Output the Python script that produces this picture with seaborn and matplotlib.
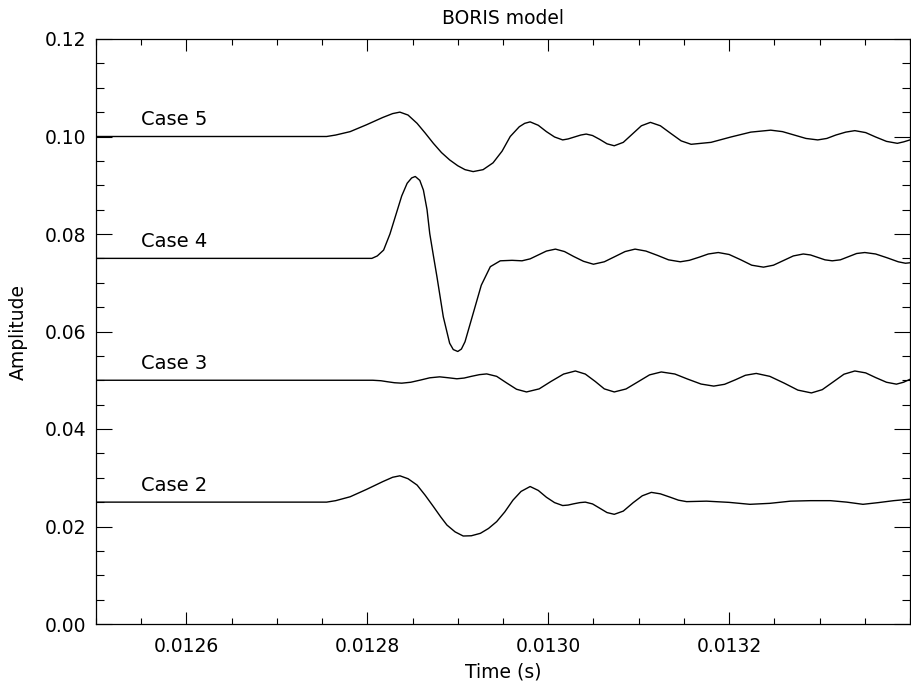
import numpy as np
import pandas as pd
import matplotlib
matplotlib.use("Agg")
import matplotlib.pyplot as plt
import seaborn as sns
from matplotlib.ticker import MultipleLocator, FormatStrFormatter

# ---- data (time in microseconds, amplitude) ----
case2_t = [12500, 12755, 12765, 12781, 12799, 12817, 12828, 12836, 12845, 12855, 12864, 12873,
           12881, 12888, 12897, 12906, 12915, 12925, 12934, 12943, 12952, 12961, 12970, 12980,
           12989, 12998, 13007, 13016, 13022, 13028, 13035, 13041, 13049, 13057, 13065, 13073,
           13083, 13094, 13104, 13114, 13124, 13135, 13144, 13153, 13175, 13200, 13223, 13245,
           13268, 13290, 13312, 13330, 13348, 13365, 13382, 13400]
case2_y = [0.0250, 0.0250, 0.0253, 0.0261, 0.0276, 0.0292, 0.0301, 0.0304, 0.0298, 0.0285, 0.0264, 0.0241,
           0.0220, 0.0203, 0.0189, 0.01805, 0.0181, 0.0186, 0.0196, 0.0210, 0.0230, 0.0254, 0.0272, 0.0282,
           0.0274, 0.0260, 0.0249, 0.0243, 0.0244, 0.02465, 0.0249, 0.0250, 0.02463, 0.02375, 0.02286, 0.0225,
           0.02316, 0.0249, 0.0263, 0.0270, 0.0267, 0.0260, 0.0254, 0.0251, 0.0252, 0.02495, 0.02455, 0.02475,
           0.0252, 0.0253, 0.0253, 0.0250, 0.02455, 0.0249, 0.0253, 0.0256]

case3_t = [12500, 12806, 12815, 12822, 12830, 12838, 12848, 12859, 12869, 12880, 12890, 12899,
           12907, 12915, 12924, 12932, 12943, 12954, 12965, 12976, 12990, 13003, 13017, 13030,
           13041, 13052, 13062, 13073, 13086, 13099, 13112, 13125, 13140, 13154, 13169, 13183,
           13195, 13207, 13218, 13230, 13245, 13261, 13276, 13291, 13303, 13315, 13327, 13339,
           13351, 13362, 13374, 13385, 13393, 13400]
case3_y = [0.0500, 0.0500, 0.0499, 0.0497, 0.04949, 0.0494, 0.04959, 0.05005, 0.0505, 0.0507, 0.0505, 0.0503,
           0.05045, 0.0508, 0.05115, 0.0513, 0.0508, 0.04945, 0.04815, 0.0476, 0.04823, 0.04975, 0.05127, 0.0519,
           0.05127, 0.04975, 0.04823, 0.0476, 0.04821, 0.04965, 0.0511, 0.0517, 0.05128, 0.05025, 0.04922, 0.0488,
           0.04917, 0.0501, 0.05102, 0.0514, 0.0508, 0.0494, 0.04798, 0.0474, 0.04807, 0.04965, 0.05124, 0.0519,
           0.05151, 0.05055, 0.04959, 0.0492, 0.0496, 0.0502]

case4_t = [12500, 12805, 12811, 12818, 12825, 12832, 12838, 12844, 12849, 12853, 12858, 12862,
           12866, 12869, 12873, 12877, 12884, 12891, 12895, 12900, 12904, 12908, 12917, 12926,
           12936, 12947, 12960, 12971, 12980, 12989, 12998, 13008, 13018, 13028, 13039, 13050,
           13062, 13073, 13085, 13096, 13108, 13121, 13133, 13146, 13156, 13167, 13177, 13188,
           13200, 13213, 13225, 13238, 13249, 13260, 13271, 13282, 13290, 13298, 13306, 13314,
           13323, 13332, 13341, 13350, 13362, 13375, 13387, 13395, 13400]
case4_y = [0.0750, 0.0750, 0.0755, 0.0767, 0.0800, 0.0842, 0.0878, 0.0904, 0.0915, 0.0918, 0.0910, 0.0890,
           0.0850, 0.0801, 0.0756, 0.0712, 0.0630, 0.0576, 0.0563, 0.0559, 0.0564, 0.0579, 0.0637, 0.0695,
           0.0733, 0.0745, 0.0746, 0.0745, 0.0749, 0.0757, 0.0765, 0.0769, 0.0764, 0.0754, 0.0744, 0.0738,
           0.0743, 0.0753, 0.0764, 0.0769, 0.0765, 0.0756, 0.0747, 0.0743, 0.0746, 0.07525, 0.0759, 0.0762,
           0.0758, 0.0747, 0.0736, 0.0732, 0.0736, 0.07455, 0.0755, 0.0759, 0.0757, 0.0752, 0.0747, 0.0745,
           0.0747, 0.07535, 0.0760, 0.0762, 0.0759, 0.0751, 0.0743, 0.0740, 0.0741]

case5_t = [12500, 12755, 12765, 12781, 12799, 12817, 12828, 12836, 12845, 12855, 12864, 12873,
           12882, 12891, 12900, 12908, 12917, 12928, 12939, 12949, 12958, 12968, 12974, 12980,
           12989, 12998, 13007, 13016, 13022, 13029, 13036, 13042, 13049, 13057, 13065, 13073,
           13083, 13093, 13103, 13113, 13124, 13135, 13147, 13158, 13180, 13202, 13224, 13246,
           13259, 13272, 13285, 13298, 13308, 13318, 13329, 13339, 13351, 13362, 13374, 13386,
           13393, 13400]
case5_y = [0.1000, 0.1000, 0.1003, 0.1010, 0.1024, 0.1039, 0.1047, 0.1050, 0.1044, 0.1027, 0.1007, 0.0986,
           0.0967, 0.0952, 0.0940, 0.0932, 0.0928, 0.0932, 0.0946, 0.0970, 0.1000, 0.1020, 0.1027, 0.1030,
           0.1023, 0.1010, 0.0999, 0.0993, 0.0995, 0.0999, 0.1003, 0.1005, 0.1002, 0.0994, 0.0985, 0.0981,
           0.0988, 0.1005, 0.1022, 0.1029, 0.1022, 0.1007, 0.0991, 0.0984, 0.0988, 0.0999, 0.1009, 0.1013,
           0.1010, 0.1003, 0.0996, 0.0993, 0.0996, 0.1003, 0.1009, 0.1012, 0.1008, 0.0999, 0.0990, 0.0986,
           0.0989, 0.0993]

case_names = ["Case 2", "Case 3", "Case 4", "Case 5"]
x_ticks = [0.0126, 0.0128, 0.0130, 0.0132]
y_ticks = [0.00, 0.02, 0.04, 0.06, 0.08, 0.10, 0.12]

series = [(case_names[0], case2_t, case2_y), (case_names[1], case3_t, case3_y),
          (case_names[2], case4_t, case4_y), (case_names[3], case5_t, case5_y)]
frames = []
for name, t, y in series:
    frames.append(pd.DataFrame({"time": np.array(t) * 1e-6, "amp": y, "case": name}))
df = pd.concat(frames, ignore_index=True)

sns.set_style("ticks")
plt.rcParams["font.family"] = ["DejaVu Sans"]
plt.rcParams["text.color"] = "black"
plt.rcParams["axes.labelcolor"] = "black"

fig = plt.figure(figsize=(9.11, 6.90), dpi=100)
ax = fig.add_axes([96 / 911, 66 / 690, 814 / 911, 585 / 690])

sns.lineplot(data=df, x="time", y="amp", hue="case", palette=["black"] * 4,
             legend=False, linewidth=1.0, ax=ax, sort=False, estimator=None)

ax.set_xlim(0.0125, 0.0134)
ax.set_ylim(0.0, 0.12)
ax.set_xticks(x_ticks)
ax.set_yticks(y_ticks)
ax.xaxis.set_minor_locator(MultipleLocator(0.00005))
ax.yaxis.set_minor_locator(MultipleLocator(0.005))
ax.xaxis.set_major_formatter(FormatStrFormatter("%.4f"))
ax.yaxis.set_major_formatter(FormatStrFormatter("%.2f"))

ax.tick_params(axis="both", which="both", direction="in", top=True, right=True,
               color="black", width=0.8, labelsize=13.5, labelcolor="black")
ax.tick_params(axis="x", which="major", length=8.4, pad=9)
ax.tick_params(axis="x", which="minor", length=4.2)
ax.tick_params(axis="y", which="major", length=11.5, pad=7)
ax.tick_params(axis="y", which="minor", length=5.8)
for s in ax.spines.values():
    s.set_linewidth(0.9)
    s.set_color("black")

ax.set_title("BORIS model", fontsize=13.5, pad=11, color="black")
ax.set_xlabel("Time (s)", fontsize=13.5, labelpad=5, color="black")
ax.set_ylabel("Amplitude", fontsize=13.5, labelpad=12, color="black")

for name, t, y in series:
    ax.text(0.01255, y[0] + 0.0023, name, fontsize=14, ha="left", va="baseline", color="black")

fig.savefig("out.png", dpi=100)
